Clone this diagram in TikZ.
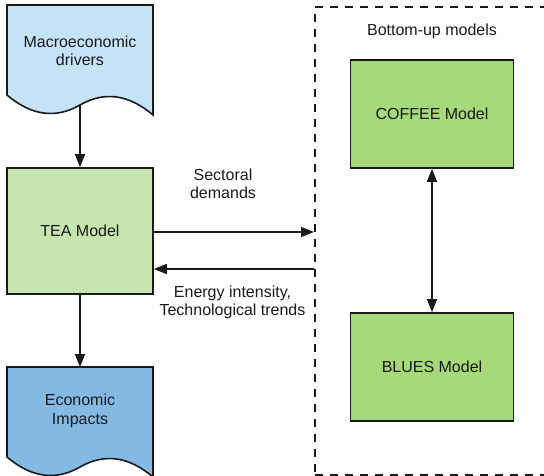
\documentclass[tikz,border=0pt]{standalone}
\usepackage{fontspec}
\setmainfont{Liberation Sans}
\usetikzlibrary{arrows.meta}
\definecolor{docLight}{HTML}{C4E3F6}
\definecolor{docDark}{HTML}{84B9E3}
\definecolor{teaFill}{HTML}{C7E5AE}
\definecolor{buFill}{HTML}{A5D97A}
\definecolor{ink}{HTML}{1A1A1A}
\tikzset{
  outline/.style={draw=ink, line width=1.6pt},
  label/.style={text=ink, align=center, font=\fontsize{16}{18.5}\selectfont},
  modelbox/.style={outline, rectangle, label},
  flow/.style={draw=ink, line width=1.6pt, -{Triangle[length=13pt,width=10pt]}},
  twoway/.style={draw=ink, line width=1.6pt, {Triangle[length=13pt,width=10pt]}-{Triangle[length=13pt,width=10pt]}},
}
% document shape: flat top, wavy bottom
\newcommand{\docshape}[2]{%
  \path[outline, fill=#2] (7,#1) -- (153,#1) -- (153,#1+110)
    .. controls (128.67,#1+89.33) and (104.33,#1+86) .. (80,#1+100)
    .. controls (55.67,#1+114) and (31.33,#1+110.67) .. (7,#1+90) -- cycle;}
\begin{document}
\begin{tikzpicture}[x=1pt, y=-1pt]
\useasboundingbox (0,0) rectangle (544,475);

% bottom-up frame
\node[draw=ink, line width=1.5pt, dash pattern=on 8pt off 7pt, rectangle,
      minimum width=250pt, minimum height=468pt, inner sep=0pt, anchor=north west]
      (frame) at (314,6) {};
\node[label] (frametitle) at (432,31) {Bottom-up models};

% input and output documents
\docshape{5}{docLight}
\node[label] (drivers) at (80,51) {Macroeconomic\\drivers};
\coordinate (driversout) at (80,105);

\docshape{367}{docDark}
\node[label] (impacts) at (80,411) {Economic\\Impacts};
\coordinate (impactsin) at (80,367);

% models
\node[modelbox, fill=teaFill, minimum width=146pt, minimum height=126pt] (tea) at (80,231) {TEA Model};
\node[modelbox, fill=buFill, minimum width=163pt, minimum height=108pt] (coffee) at (432,114) {COFFEE Model};
\node[modelbox, fill=buFill, minimum width=163pt, minimum height=108pt] (blues) at (432,367) {BLUES Model};

% connectors
\draw[flow] (driversout) -- (tea.north);
\draw[flow] (tea.south) -- (impactsin);
\coordinate (outdem) at (tea.east |- 0,232);
\coordinate (indem) at (frame.west |- 0,232);
\draw[flow] (outdem) -- (indem);
\coordinate (backsrc) at (frame.west |- 0,269);
\coordinate (backdst) at (tea.east |- 0,269);
\draw[flow] (backsrc) -- (backdst);
\draw[twoway] (coffee.south) -- (blues.north);

% connector labels
\node[label] (demlabel) at (223,184) {Sectoral\\demands};
\node[label] (trendlabel) at (232.5,302.5) {Energy intensity,\\Technological trends};
\end{tikzpicture}
\end{document}
